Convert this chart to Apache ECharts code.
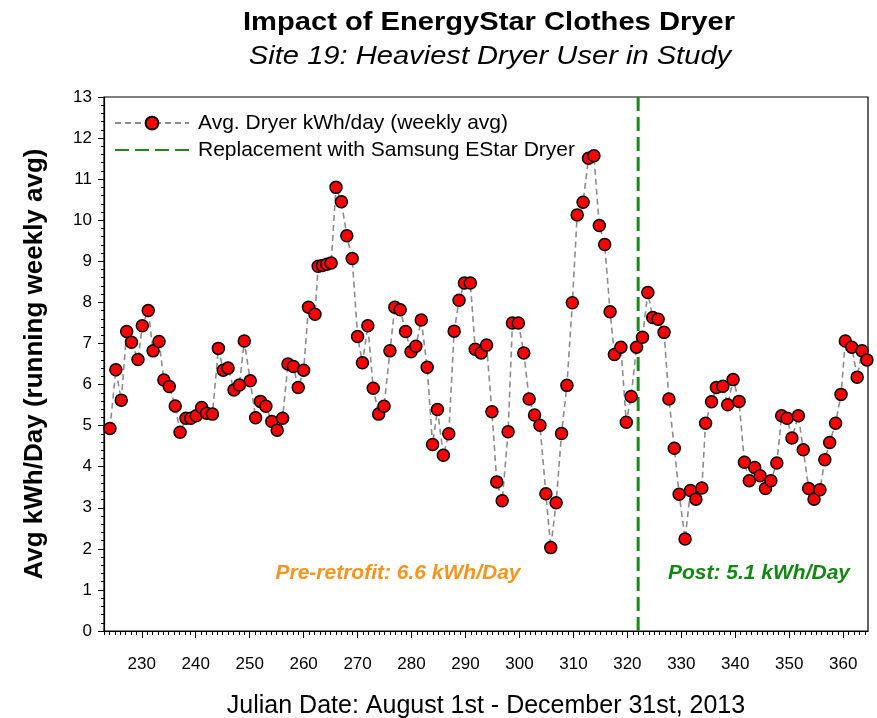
<html>

<head>
    <script src="https://cdn.jsdelivr.net/npm/echarts@6/dist/echarts.min.js"></script>
</head>
<style>
    body {
        margin: 0;
        background: #fff;
    }

    #dryer {
        width: 877px;
        height: 718px;
    }
</style>

<body>
    <div id="dryer"></div>
    <script>
        // julian day of each running-weekly-avg reading
        const days = [
            224.1, 225.2, 226.2, 227.2, 228.1, 229.3, 230.1, 231.2, 232.1, 233.2,
            234.1, 235.1, 236.2, 237.1, 238.2, 239.1, 240.1, 241.1, 242.0, 243.1,
            244.2, 245.1, 246.0, 247.1, 248.1, 249.0, 250.1, 251.1, 252.0, 253.0,
            254.1, 255.1, 256.1, 257.1, 258.1, 259.0, 260.0, 260.9, 262.1, 262.7,
            263.5, 264.3, 265.1, 266.0, 267.0, 268.0, 269.0, 270.0, 270.9, 271.9,
            272.9, 273.9, 274.9, 276.0, 276.9, 277.9, 278.9, 279.9, 280.8, 281.8,
            282.9, 283.9, 284.8, 285.9, 286.9, 287.9, 288.8, 289.8, 290.9, 291.8,
            292.9, 293.9, 294.9, 295.8, 296.8, 297.9, 298.7, 299.8, 300.8, 301.8,
            302.8, 303.8, 304.9, 305.8, 306.8, 307.8, 308.8, 309.8, 310.7, 311.8,
            312.8, 313.8, 314.8, 315.8, 316.8, 317.6, 318.8, 319.8, 320.7, 321.7,
            322.8, 323.8, 324.7, 325.7, 326.8, 327.7, 328.7, 329.6, 330.7, 331.7,
            332.7, 333.8, 334.5, 335.6, 336.5, 337.7, 338.6, 339.6, 340.7, 341.7,
            342.6, 343.6, 344.6, 345.6, 346.6, 347.7, 348.6, 349.6, 350.5, 351.7,
            352.6, 353.6, 354.6, 355.7, 356.6, 357.5, 358.6, 359.6, 360.4, 361.6,
            362.6, 363.5, 364.4
        ]
        // avg dryer kWh/day (weekly avg)
        const kwh = [
            4.93, 6.36, 5.62, 7.29, 7.03, 6.61, 7.43, 7.80, 6.82, 7.05,
            6.11, 5.95, 5.48, 4.84, 5.18, 5.18, 5.24, 5.44, 5.30, 5.28,
            6.88, 6.35, 6.40, 5.87, 5.99, 7.06, 6.09, 5.19, 5.59, 5.47,
            5.10, 4.89, 5.18, 6.50, 6.44, 5.93, 6.35, 7.88, 7.71, 8.88,
            8.90, 8.93, 8.96, 10.80, 10.45, 9.62, 9.07, 7.17, 6.53, 7.43,
            5.91, 5.28, 5.47, 6.82, 7.88, 7.82, 7.29, 6.80, 6.93, 7.57,
            6.42, 4.54, 5.39, 4.28, 4.80, 7.30, 8.05, 8.47, 8.47, 6.86,
            6.77, 6.96, 5.34, 3.63, 3.17, 4.85, 7.50, 7.50, 6.77, 5.65,
            5.26, 5.01, 3.34, 2.03, 3.12, 4.81, 5.98, 7.99, 10.13, 10.44,
            11.51, 11.57, 9.87, 9.41, 7.77, 6.73, 6.91, 5.08, 5.71, 6.91,
            7.15, 8.24, 7.63, 7.59, 7.27, 5.65, 4.45, 3.33, 2.24, 3.42,
            3.21, 3.48, 5.06, 5.58, 5.93, 5.96, 5.51, 6.12, 5.59, 4.11,
            3.66, 3.98, 3.78, 3.47, 3.66, 4.09, 5.24, 5.18, 4.70, 5.24,
            4.41, 3.47, 3.21, 3.44, 4.17, 4.59, 5.06, 5.76, 7.06, 6.91,
            6.18, 6.82, 6.60
        ]
        const replacementDay = 322
        const xTicks = [230, 240, 250, 260, 270, 280, 290, 300, 310, 320, 330, 340, 350, 360]
        const xMinorTicks = []
        for (let d = 223; d <= 364; d++) xMinorTicks.push(d)

        const FONT = 'Liberation Sans'
        const seriesName = 'Avg. Dryer kWh/day (weekly avg)'
        const lineName = 'Replacement with Samsung EStar Dryer'

        const points = days.map(function (d, i) {
            return [d, kwh[i]]
        })

        // one legend box per row so the rows can sit as close as in the original
        function legendRow(top, item) {
            return {
                orient: 'vertical',
                left: 114, top: top, padding: 0,
                itemWidth: 74, itemHeight: 16,
                textStyle: { fontFamily: FONT, fontSize: 21, color: '#000', padding: [0, 0, 0, 4] },
                data: [item]
            }
        }

        const option = {
            animation: false,
            textStyle: { fontFamily: FONT },
            legend: [
                legendRow(105, seriesName),
                legendRow(132, { name: lineName, itemStyle: { opacity: 0 } })
            ],
            grid: {
                left: 104, right: 9, top: 97, bottom: 87,
                outerBoundsMode: 'none',
                show: true, borderColor: '#000', borderWidth: 1.2
            },
            xAxis: [{
                type: 'value', min: 223, max: 364.6,
                name: 'Julian Date: August 1st - December 31st, 2013',
                nameLocation: 'middle', nameGap: 53,
                nameTextStyle: { fontFamily: FONT, fontSize: 25, color: '#000' },
                axisLine: { lineStyle: { color: '#000', width: 1.2 } },
                axisTick: { customValues: xTicks, length: 7, lineStyle: { color: '#000' } },
                axisLabel: { customValues: xTicks, margin: 19, fontSize: 17, color: '#000', fontFamily: FONT },
                splitLine: { show: false }
            }, {
                type: 'value', min: 223, max: 364.6, position: 'bottom',
                axisLine: { show: false },
                axisTick: { customValues: xMinorTicks, length: 4, lineStyle: { color: '#000' } },
                axisLabel: { show: false },
                splitLine: { show: false }
            }],
            yAxis: {
                type: 'value', min: 0, max: 13, interval: 1,
                name: 'Avg kWh/Day (running weekly avg)',
                nameLocation: 'middle', nameGap: 47,
                nameTextStyle: { fontFamily: FONT, fontSize: 26, fontWeight: 'bold', color: '#000' },
                axisLine: { show: true, lineStyle: { color: '#000', width: 1.2 } },
                axisTick: { show: true, length: 6, lineStyle: { color: '#000' } },
                minorTick: { show: true, splitNumber: 5, length: 3, lineStyle: { color: '#000' } },
                axisLabel: { margin: 12, fontSize: 17, color: '#000', fontFamily: FONT },
                splitLine: { show: false }
            },
            graphic: [{
                type: 'text', x: 489, y: 23, scaleX: 1.12,
                style: {
                    text: 'Impact of EnergyStar Clothes Dryer', fill: '#000',
                    textAlign: 'center', textVerticalAlign: 'middle',
                    font: 'bold 26px "Liberation Sans"'
                }
            }, {
                type: 'text', x: 490, y: 57, scaleX: 1.12,
                style: {
                    text: 'Site 19: Heaviest Dryer User in Study', fill: '#000',
                    textAlign: 'center', textVerticalAlign: 'middle',
                    font: 'italic 26px "Liberation Sans"'
                }
            }, {
                type: 'text', x: 398, y: 573,
                style: {
                    text: 'Pre-retrofit: 6.6 kWh/Day', fill: '#f7941d',
                    textAlign: 'center', textVerticalAlign: 'middle',
                    font: 'italic bold 21px "Liberation Sans"'
                }
            }, {
                type: 'text', x: 759, y: 573,
                style: {
                    text: 'Post: 5.1 kWh/Day', fill: '#118811',
                    textAlign: 'center', textVerticalAlign: 'middle',
                    font: 'italic bold 21px "Liberation Sans"'
                }
            }],
            series: [{
                name: lineName,
                type: 'line',
                symbol: 'none',
                data: [[replacementDay, 0], [replacementDay, 13]],
                lineStyle: { color: '#1a8a1a', width: 3, type: [14, 6] },
                itemStyle: { color: '#1a8a1a' },
                z: 2
            }, {
                name: seriesName,
                type: 'line',
                data: points,
                showAllSymbol: true,
                symbol: 'circle',
                symbolSize: 12,
                lineStyle: { color: '#8c8c8c', width: 1.6, type: [6, 4] },
                itemStyle: { color: '#ff0000', borderColor: '#000', borderWidth: 1.5 },
                z: 3
            }]
        }

        const chart = echarts.init(document.getElementById('dryer'))
        chart.setOption(option)
    </script>
</body>

</html>
